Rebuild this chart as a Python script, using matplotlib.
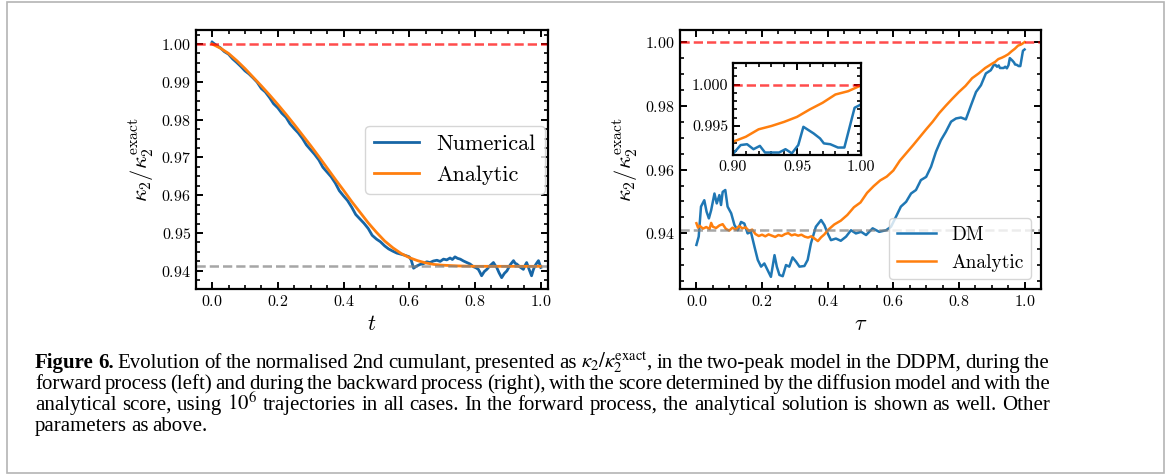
import matplotlib
matplotlib.use("Agg")
import matplotlib.pyplot as plt
from matplotlib.ticker import MultipleLocator
from matplotlib.patches import Rectangle

# ---- forward process (left) ----
t_an = [0.0, 0.025, 0.05, 0.075, 0.1, 0.125, 0.15, 0.175, 0.2, 0.225, 0.25, 0.275,
        0.3, 0.325, 0.35, 0.375, 0.4, 0.425, 0.45, 0.475, 0.5, 0.525, 0.55, 0.575,
        0.6, 0.625, 0.65, 0.675, 0.7, 0.75, 0.8, 0.9, 1.0]
k_an = [1.0000, 0.9989, 0.9975, 0.9956, 0.9935, 0.9912, 0.9889, 0.9865, 0.9840, 0.9814,
        0.9787, 0.9759, 0.9731, 0.9702, 0.9672, 0.9642, 0.9613, 0.9583, 0.9555, 0.9527,
        0.9502, 0.9479, 0.9461, 0.9446, 0.9435, 0.9427, 0.9421, 0.9417, 0.9415, 0.9413,
        0.9412, 0.9412, 0.9412]

t_num = [0.0, 0.012, 0.025, 0.037, 0.05, 0.062, 0.075, 0.087, 0.1, 0.112, 0.125, 0.137,
         0.15, 0.162, 0.175, 0.187, 0.2, 0.212, 0.225, 0.237, 0.25, 0.262, 0.275, 0.287,
         0.3, 0.312, 0.325, 0.337, 0.35, 0.362, 0.375, 0.387, 0.4, 0.412, 0.425, 0.437,
         0.45, 0.462, 0.475, 0.487, 0.5, 0.512, 0.525, 0.537, 0.55, 0.562, 0.575, 0.587,
         0.6, 0.606, 0.613, 0.618, 0.623, 0.633, 0.643, 0.653, 0.663, 0.673, 0.684, 0.694,
         0.704, 0.714, 0.724, 0.731, 0.739, 0.747, 0.755, 0.765, 0.775, 0.785, 0.795,
         0.803, 0.81, 0.815, 0.82, 0.828, 0.836, 0.846, 0.856, 0.861, 0.866, 0.873, 0.881,
         0.889, 0.897, 0.907, 0.917, 0.922, 0.927, 0.937, 0.947, 0.952, 0.957, 0.965,
         0.972, 0.977, 0.982, 0.988, 0.993, 1.0]
k_num = [1.0005, 0.9997, 0.9990, 0.9980, 0.9973, 0.9961, 0.9951, 0.9941, 0.9929, 0.9921,
         0.9910, 0.9899, 0.9882, 0.9873, 0.9858, 0.9842, 0.9831, 0.9817, 0.9806, 0.9789,
         0.9776, 0.9765, 0.9750, 0.9733, 0.9720, 0.9708, 0.9693, 0.9674, 0.9661, 0.9649,
         0.9632, 0.9612, 0.9598, 0.9586, 0.9568, 0.9549, 0.9537, 0.9526, 0.9512, 0.9494,
         0.9484, 0.9477, 0.9466, 0.9458, 0.9452, 0.9447, 0.9444, 0.9441, 0.9437, 0.9428,
         0.9407, 0.9410, 0.9413, 0.9417, 0.9419, 0.9424, 0.9422, 0.9426, 0.9428, 0.9425,
         0.9431, 0.9429, 0.9434, 0.9430, 0.9437, 0.9433, 0.9431, 0.9426, 0.9422, 0.9418,
         0.9411, 0.9408, 0.9404, 0.9396, 0.9387, 0.9398, 0.9404, 0.9414, 0.9422, 0.9415,
         0.9409, 0.9395, 0.9382, 0.9393, 0.9400, 0.9416, 0.9427, 0.9420, 0.9418, 0.9410,
         0.9404, 0.9414, 0.9422, 0.9403, 0.9387, 0.9402, 0.9413, 0.9421, 0.9427, 0.9409]

# ---- backward process (right) ----
tau_an = [0.0, 0.005, 0.01, 0.02, 0.03, 0.04, 0.045, 0.05, 0.06, 0.07, 0.08, 0.09, 0.10,
          0.11, 0.12, 0.13, 0.14, 0.15, 0.16, 0.17, 0.18, 0.19, 0.20, 0.21, 0.22, 0.23,
          0.24, 0.25, 0.26, 0.27, 0.28, 0.29, 0.30, 0.31, 0.32, 0.33, 0.34, 0.35, 0.36,
          0.37, 0.38, 0.39, 0.40, 0.42, 0.44, 0.46, 0.48, 0.50, 0.52, 0.54, 0.56, 0.58,
          0.60, 0.62, 0.64, 0.66, 0.68, 0.70, 0.72, 0.74, 0.76, 0.78, 0.80, 0.82, 0.84,
          0.86, 0.88, 0.90, 0.91, 0.92, 0.93, 0.94, 0.95, 0.96, 0.97, 0.98, 0.99, 1.00]
kb_an = [0.9432, 0.9418, 0.9424, 0.9415, 0.9420, 0.9414, 0.9433, 0.9421, 0.9417, 0.9425,
         0.9429, 0.9414, 0.9409, 0.9418, 0.9412, 0.9423, 0.9416, 0.9419, 0.9408, 0.9412,
         0.9398, 0.9392, 0.9396, 0.9391, 0.9397, 0.9393, 0.9389, 0.9395, 0.9392, 0.9398,
         0.9401, 0.9394, 0.9397, 0.9393, 0.9396, 0.9390, 0.9387, 0.9391, 0.9384, 0.9376,
         0.9388, 0.9397, 0.9410, 0.9428, 0.9440, 0.9458, 0.9482, 0.9497, 0.9527, 0.9548,
         0.9566, 0.9578, 0.9597, 0.9628, 0.9652, 0.9676, 0.9701, 0.9726, 0.9750, 0.9777,
         0.9800, 0.9822, 0.9843, 0.9862, 0.9886, 0.9901, 0.9918, 0.9931, 0.9937, 0.9946,
         0.9950, 0.9955, 0.9961, 0.9970, 0.9978, 0.9988, 0.9992, 0.9999]

tau_dm = [0.0, 0.007, 0.014, 0.024, 0.031, 0.038, 0.045, 0.055, 0.062, 0.07, 0.075, 0.08,
          0.088, 0.095, 0.106, 0.116, 0.126, 0.136, 0.146, 0.156, 0.166, 0.177, 0.187,
          0.197, 0.207, 0.217, 0.227, 0.238, 0.245, 0.253, 0.263, 0.273, 0.283, 0.293,
          0.304, 0.314, 0.329, 0.339, 0.349, 0.364, 0.38, 0.39, 0.40, 0.41, 0.425, 0.44,
          0.456, 0.471, 0.486, 0.502, 0.517, 0.537, 0.557, 0.578, 0.593, 0.608, 0.623,
          0.639, 0.654, 0.669, 0.684, 0.70, 0.715, 0.73, 0.745, 0.76, 0.776, 0.791, 0.806,
          0.821, 0.837, 0.852, 0.867, 0.882, 0.897, 0.906, 0.911, 0.916, 0.921, 0.925,
          0.936, 0.941, 0.946, 0.951, 0.955, 0.963, 0.968, 0.971, 0.976, 0.982, 0.987,
          0.995, 1.0]
kb_dm = [0.9364, 0.9390, 0.9484, 0.9504, 0.9468, 0.9447, 0.9473, 0.9525, 0.9494, 0.9520,
         0.9489, 0.9530, 0.9536, 0.9484, 0.9463, 0.9426, 0.9410, 0.9436, 0.9431, 0.9400,
         0.9405, 0.9358, 0.9317, 0.9296, 0.9306, 0.9285, 0.9264, 0.9332, 0.9296, 0.9270,
         0.9266, 0.9301, 0.9296, 0.9325, 0.9311, 0.9296, 0.9298, 0.9317, 0.9369, 0.9421,
         0.9442, 0.9426, 0.9400, 0.9379, 0.9384, 0.9377, 0.9390, 0.9410, 0.9400, 0.9405,
         0.9395, 0.9416, 0.9405, 0.9410, 0.9421, 0.9452, 0.9484, 0.9499, 0.9525, 0.9536,
         0.9567, 0.9577, 0.9609, 0.9656, 0.9692, 0.9718, 0.9750, 0.9760, 0.9763, 0.9757,
         0.9802, 0.9843, 0.9864, 0.9901, 0.9911, 0.9927, 0.9928, 0.9922, 0.9926, 0.9918,
         0.9918, 0.9922, 0.9917, 0.9927, 0.9949, 0.9941, 0.9935, 0.9929, 0.9928, 0.9924,
         0.9924, 0.9972, 0.9976]

k_stat = 0.9412
k_exact = 1.0

BLUE_L = "#1766a6"
BLUE = "#1f77b4"
ORANGE = "#ff7f0e"

plt.rcParams.update({
    "font.family": "serif",
    "font.serif": ["cmr10"],
    "mathtext.fontset": "cm",
    "axes.formatter.use_mathtext": True,
    "axes.linewidth": 1.6,
    "xtick.direction": "in",
    "ytick.direction": "in",
    "xtick.top": True,
    "ytick.right": True,
    "xtick.major.size": 5,
    "ytick.major.size": 5,
    "xtick.minor.size": 2.8,
    "ytick.minor.size": 2.8,
    "xtick.major.width": 1.4,
    "ytick.major.width": 1.4,
    "xtick.minor.width": 1.2,
    "ytick.minor.width": 1.2,
    "xtick.labelsize": 11.5,
    "ytick.labelsize": 11.5,
    "axes.labelsize": 16,
})

W, H = 1176, 475
fig = plt.figure(figsize=(W / 100, H / 100), dpi=100)


def px_axes(x0, y0, x1, y1):
    return fig.add_axes([x0 / W, 1 - y1 / H, (x1 - x0) / W, (y1 - y0) / H])


ylab = r"$\kappa_2/\kappa_2^{\rm exact}$"

# left panel
ax1 = px_axes(196, 30, 548, 289)
ax1.plot(t_num, k_num, color=BLUE_L, lw=2.0, label="Numerical")
ax1.plot(t_an, k_an, color=ORANGE, lw=2.0, label="Analytic")
ax1.axhline(k_exact, color="red", ls="--", lw=1.8, alpha=0.7)
ax1.axhline(k_stat, color="gray", ls="--", lw=1.8, alpha=0.7)
ax1.set_xlim(-0.049, 1.022)
ax1.set_ylim(0.9352, 1.0037)
ax1.xaxis.set_major_locator(MultipleLocator(0.2))
ax1.xaxis.set_minor_locator(MultipleLocator(0.05))
ax1.yaxis.set_major_locator(MultipleLocator(0.01))
ax1.yaxis.set_minor_locator(MultipleLocator(0.0025))
ax1.set_xlabel(r"$t$")
ax1.set_ylabel(ylab)
ax1.legend(loc="center right", fontsize=16, borderaxespad=0.15)

# right panel
ax2 = px_axes(680, 30, 1041, 289)
ax2.plot(tau_dm, kb_dm, color=BLUE, lw=1.8, label="DM")
ax2.plot(tau_an, kb_an, color=ORANGE, lw=1.8, label="Analytic")
ax2.axhline(k_exact, color="red", ls="--", lw=1.8, alpha=0.7)
ax2.axhline(k_stat, color="gray", ls="--", lw=1.8, alpha=0.7)
ax2.set_xlim(-0.05, 1.05)
ax2.set_ylim(0.9226, 1.0037)
ax2.xaxis.set_major_locator(MultipleLocator(0.2))
ax2.xaxis.set_minor_locator(MultipleLocator(0.05))
ax2.yaxis.set_major_locator(MultipleLocator(0.02))
ax2.yaxis.set_minor_locator(MultipleLocator(0.005))
ax2.set_xlabel(r"$\tau$")
ax2.set_ylabel(ylab)
ax2.legend(loc="lower right", fontsize=14)

# zoom on the end of the backward process
ins = px_axes(733, 63, 861, 155)
ins.plot(tau_dm, kb_dm, color=BLUE, lw=1.8)
ins.plot(tau_an, kb_an, color=ORANGE, lw=1.8)
ins.axhline(k_exact, color="red", ls="--", lw=1.8, alpha=0.7)
ins.set_xlim(0.9, 1.0)
ins.set_ylim(0.9915, 1.0026)
ins.xaxis.set_major_locator(MultipleLocator(0.05))
ins.xaxis.set_minor_locator(MultipleLocator(0.01))
ins.yaxis.set_major_locator(MultipleLocator(0.005))
ins.yaxis.set_minor_locator(MultipleLocator(0.001))
ins.xaxis.set_major_formatter(plt.FormatStrFormatter("%.2f"))
ins.yaxis.set_major_formatter(plt.FormatStrFormatter("%.3f"))

# caption box
fig.patches.append(Rectangle((7 / W, 1 - 473 / H), 1157 / W, 471 / H,
                             transform=fig.transFigure, fill=False,
                             edgecolor="#b4b4b4", lw=1.2))

cap_font = dict(family="Liberation Serif", size=15, math_fontfamily="stix")
kap = r"$\kappa_2/\kappa_2^{\mathrm{exact}}$,"
cap_lines = [
    ["Figure", "6.", "Evolution", "of", "the", "normalised", "2nd", "cumulant,", "presented",
     "as", kap, "in", "the", "two-peak", "model", "in", "the", "DDPM,", "during", "the"],
    ["forward", "process", "(left)", "and", "during", "the", "backward", "process", "(right),",
     "with", "the", "score", "determined", "by", "the", "diffusion", "model", "and", "with",
     "the"],
    ["analytical", "score,", "using", r"$10^6$", "trajectories", "in", "all", "cases.", "In",
     "the", "forward", "process,", "the", "analytical", "solution", "is", "shown", "as",
     "well.", "Other"],
    ["parameters", "as", "above."],
]
cap_x0, cap_x1 = 35, 1050
cap_y0, cap_dy = 368, 21

renderer = fig.canvas.get_renderer()
space = 4.0
for i, words in enumerate(cap_lines):
    y = 1 - (cap_y0 + i * cap_dy) / H
    items = []
    for j, w in enumerate(words):
        bold = i == 0 and j < 2
        txt = fig.text(0, y, w, weight="bold" if bold else "normal",
                       va="baseline", ha="left", **cap_font)
        items.append((txt, txt.get_window_extent(renderer).width))
    total = sum(wd for _, wd in items)
    justify = i < len(cap_lines) - 1
    gap = (cap_x1 - cap_x0 - total) / (len(items) - 1) if justify else space
    x = cap_x0
    for txt, wd in items:
        txt.set_x(x / W)
        x += wd + gap

fig.savefig("out.png", dpi=100)
